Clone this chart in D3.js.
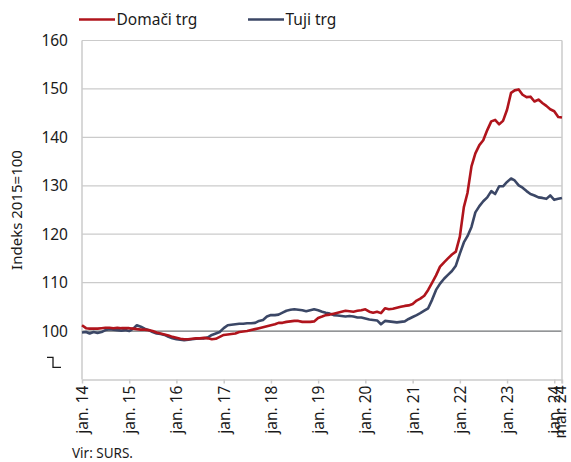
<!DOCTYPE html>
<html>
<head>
<meta charset="utf-8">
<script src="https://cdn.jsdelivr.net/npm/d3@7"></script>
<style>
  body { margin: 0; background: #fff; }
  svg { display: block; font-family: "Noto Sans", "Open Sans", sans-serif; }
</style>
</head>
<body>
<svg id="chart" width="571" height="462"></svg>
<script>
// monthly index, 2015 = 100, jan. 2014 .. mar. 2024
const startMonth = "2014-01";
const endMonth = "2024-03";

const domaciTrg = [
  101.2, 100.6, 100.5, 100.5, 100.5, 100.6, 100.7, 100.7, 100.6, 100.7, 100.6, 100.6,
  100.6, 100.5, 100.4, 100.3, 100.3, 100.2, 100.0, 99.7, 99.5, 99.3, 99.1, 98.8,
  98.6, 98.4, 98.3, 98.3, 98.4, 98.5, 98.5, 98.6, 98.5, 98.3, 98.4, 98.8,
  99.2, 99.3, 99.4, 99.5, 99.8, 99.9, 100.0, 100.2, 100.4, 100.6, 100.8, 101.0,
  101.2, 101.4, 101.7, 101.7, 101.9, 102.0, 102.1, 102.1, 101.9, 101.9, 101.9, 102.0,
  102.7, 103.0, 103.3, 103.4, 103.6, 103.8, 104.0, 104.2, 104.1, 104.0, 104.2, 104.3,
  104.5, 104.0, 103.8, 104.0, 103.7, 104.7, 104.5, 104.6, 104.8, 105.0, 105.2, 105.3,
  105.6, 106.3, 106.7, 107.3, 108.5, 110.0, 111.5, 113.3, 114.2, 115.0, 115.8, 116.4,
  119.5, 125.6, 128.5, 134.0, 136.7, 138.4, 139.4, 141.5, 143.3, 143.6, 142.7, 143.4,
  145.7, 149.2, 149.7, 149.9, 148.8, 148.3, 148.4, 147.4, 147.8, 147.1, 146.5, 145.8,
  145.4, 144.2, 144.1
];

const tujiTrg = [
  99.7, 99.8, 99.5, 99.8, 99.6, 99.8, 100.2, 100.4, 100.3, 100.2, 100.1, 100.2,
  100.0, 100.5, 101.2, 100.9, 100.5, 100.2, 99.8, 99.5, 99.4, 99.2, 98.8, 98.5,
  98.3, 98.2, 98.1, 98.2, 98.3, 98.4, 98.5, 98.5, 98.7, 99.2, 99.5, 99.8,
  100.6, 101.2, 101.3, 101.4, 101.5, 101.5, 101.6, 101.6, 101.7, 102.1, 102.3, 103.0,
  103.3, 103.3, 103.4, 103.8, 104.2, 104.4, 104.5, 104.4, 104.3, 104.1, 104.3, 104.5,
  104.3, 104.0, 103.8, 103.6, 103.3, 103.2, 103.1, 103.0, 103.1, 103.0, 102.8, 102.8,
  102.6, 102.4, 102.3, 102.2, 101.4, 102.1, 102.0, 101.9, 101.8, 101.9, 102.0, 102.5,
  102.9, 103.3, 103.7, 104.2, 104.7, 106.5, 108.5, 109.8, 110.8, 111.6, 112.4, 113.5,
  116.0, 118.3, 119.6, 121.5, 124.5, 125.8, 126.8, 127.6, 128.9, 128.3, 129.9, 129.9,
  130.8, 131.5, 131.1, 130.1, 129.6, 128.9, 128.3, 128.0, 127.6, 127.5, 127.3, 128.0,
  127.1, 127.3, 127.5
];

const seriesNames = ["Domači trg", "Tuji trg"];
const seriesColors = ["#b0141c", "#3b4766"];

const yTicks = [100, 110, 120, 130, 140, 150, 160];
const xTickMonths = ["2014-01", "2015-01", "2016-01", "2017-01", "2018-01", "2019-01",
  "2020-01", "2021-01", "2022-01", "2023-01", "2024-01", "2024-03"];
const xTickLabels = ["jan. 14", "jan. 15", "jan. 16", "jan. 17", "jan. 18", "jan. 19",
  "jan. 20", "jan. 21", "jan. 22", "jan. 23", "jan. 24", "mar. 24"];

const yTitle = "Indeks 2015=100";
const sourceNote = "Vir: SURS.";

/******************** SETUP ********************/
const parseMonth = d3.timeParse("%Y-%m");
const svg = d3.select("#chart");
const margin = { top: 40.5, right: 9, bottom: 82.5, left: 82 };
const width = 571, height = 462;
const innerW = width - margin.left - margin.right;
const innerH = height - margin.top - margin.bottom;

const months = d3.timeMonth.range(parseMonth(startMonth), d3.timeMonth.offset(parseMonth(endMonth), 1));

const x = d3.scaleTime()
  .domain([parseMonth(startMonth), parseMonth(endMonth)])
  .range([0, innerW]);

const y = d3.scaleLinear()
  .domain([90, 160])
  .range([innerH, 0]);

const g = svg.append("g")
  .attr("transform", `translate(${margin.left},${margin.top})`);

/******************** GRID + AXES ********************/
// horizontal grid lines, 100 darker
g.append("g")
  .selectAll("line")
  .data(yTicks)
  .join("line")
  .attr("x1", 0)
  .attr("x2", innerW)
  .attr("y1", d => y(d))
  .attr("y2", d => y(d))
  .attr("stroke", d => d === 100 ? "#6f7275" : "#cbcbcb")
  .attr("stroke-width", 1.2);

// y axis: labels only, the line is drawn separately
const yAxis = g.append("g")
  .call(d3.axisLeft(y).tickValues(yTicks).tickSize(0).tickPadding(14));
yAxis.select(".domain").remove();
yAxis.selectAll("text")
  .attr("font-size", "15.5px")
  .attr("fill", "#1a1a1a")
  .attr("font-family", "Noto Sans, sans-serif");

// left and right frame lines
g.append("line")
  .attr("x1", 0).attr("x2", 0)
  .attr("y1", 0).attr("y2", innerH)
  .attr("stroke", "#cbcbcb").attr("stroke-width", 1.5);
g.append("line")
  .attr("x1", innerW).attr("x2", innerW)
  .attr("y1", 0).attr("y2", innerH + 4)
  .attr("stroke", "#cbcbcb").attr("stroke-width", 1.5);

// x axis
const xAxis = g.append("g")
  .attr("transform", `translate(0,${innerH})`)
  .call(d3.axisBottom(x)
    .tickValues(xTickMonths.map(parseMonth))
    .tickFormat((d, i) => xTickLabels[i])
    .tickSizeInner(4)
    .tickSizeOuter(0));
xAxis.select(".domain").attr("stroke", "#cbcbcb").attr("stroke-width", 1.5);
xAxis.selectAll(".tick line").attr("stroke", "#cbcbcb").attr("stroke-width", 1.5);
xAxis.selectAll("text")
  .attr("font-size", "15.5px")
  .attr("fill", "#1a1a1a")
  .attr("font-family", "Noto Sans, sans-serif")
  .attr("text-anchor", "end")
  .attr("transform", "rotate(-90)")
  .attr("x", -6)
  .attr("y", (d, i) => i === xTickLabels.length - 1 ? -1.5 : 0)
  .attr("dy", "0.35em");

// axis break symbol below 100
const yb = y(92.5);
g.append("path")
  .attr("d", `M${-35},${yb - 10} H${-29} V${yb} H${-21}`)
  .attr("fill", "none")
  .attr("stroke", "#1a1a1a")
  .attr("stroke-width", 1.3);

/******************** LINES ********************/
const line = d3.line()
  .x((d, i) => x(months[i]))
  .y(d => y(d));

[tujiTrg, domaciTrg].forEach((s, k) => {
  g.append("path")
    .datum(s)
    .attr("fill", "none")
    .attr("stroke", k === 0 ? seriesColors[1] : seriesColors[0])
    .attr("stroke-width", 2.6)
    .attr("stroke-linejoin", "round")
    .attr("d", line);
});

/******************** TEXT ********************/
svg.append("text")
  .attr("transform", `translate(22,${margin.top + y(125)}) rotate(-90)`)
  .attr("text-anchor", "middle")
  .attr("font-size", "15px")
  .attr("fill", "#1a1a1a")
  .text(yTitle);

// legend
const legendX = [79, 248];
seriesNames.forEach((name, i) => {
  const lg = svg.append("g").attr("transform", `translate(${legendX[i]},19.5)`);
  lg.append("line")
    .attr("x1", 0).attr("x2", 36)
    .attr("stroke", seriesColors[i])
    .attr("stroke-width", 2.6);
  lg.append("text")
    .attr("x", 37.5)
    .attr("dy", "0.35em")
    .attr("font-size", "15.5px")
    .attr("fill", "#1a1a1a")
    .text(name);
});

svg.append("text")
  .attr("x", 72)
  .attr("y", 458)
  .attr("font-size", "13.5px")
  .attr("fill", "#1a1a1a")
  .text(sourceNote);
</script>
</body>
</html>
